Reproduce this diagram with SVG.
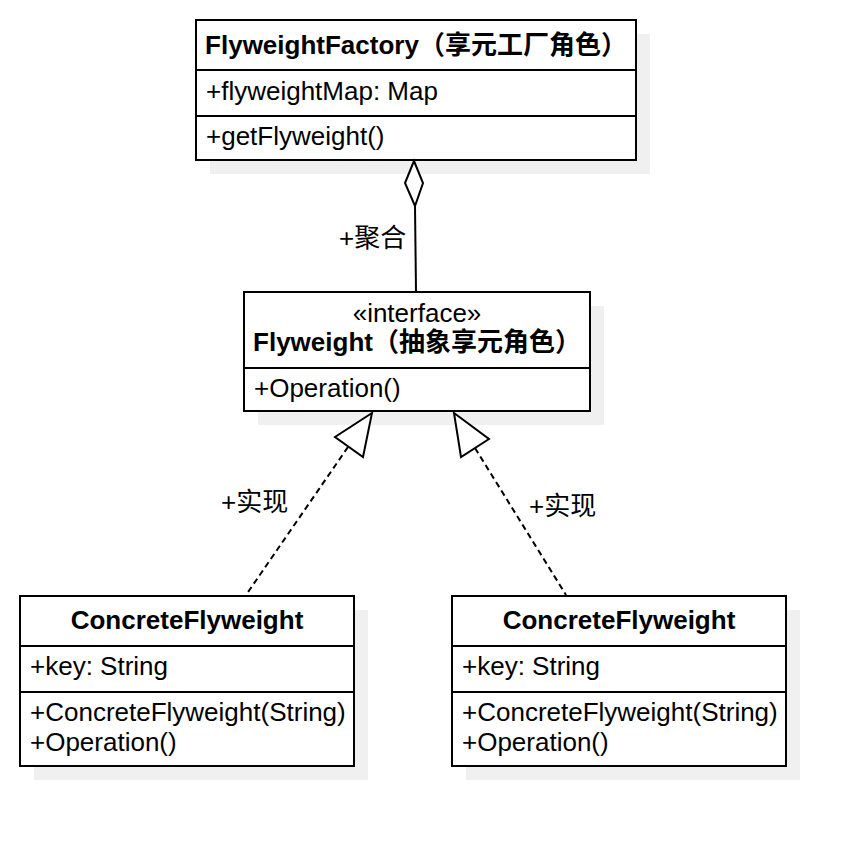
<svg xmlns="http://www.w3.org/2000/svg" width="864" height="846" viewBox="0 0 864 846">
<style>
text { font-family: "Liberation Sans", "Noto Sans CJK SC", sans-serif; font-size: 26px; fill: #000; }
.b { font-weight: bold; }
.c { text-anchor: middle; }
.box { fill: #fff; stroke: #000; stroke-width: 2; }
.sh { fill: #f0f0f0; }
.div { stroke: #000; stroke-width: 2; }
.edge { fill: none; stroke: #000; stroke-width: 2; }
.dash { stroke-dasharray: 6 4; }
.head { fill: #fff; stroke: #000; stroke-width: 2; stroke-linejoin: miter; }
</style>
<rect width="864" height="846" fill="#fff"/>
<g id="factory">
<rect class="sh" x="210" y="34" width="440" height="140"/>
<rect class="box" x="196" y="20" width="440" height="140"/>
<line class="div" x1="196" y1="70" x2="636" y2="70"/>
<line class="div" x1="196" y1="116" x2="636" y2="116"/>
<text class="b c" x="416" y="54">FlyweightFactory（享元工厂角色）</text>
<text x="206" y="100">+flyweightMap: Map</text>
<text x="206" y="145">+getFlyweight()</text>
</g>
<g id="flyweight">
<rect class="sh" x="258" y="306" width="346" height="119"/>
<rect class="box" x="244" y="292" width="346" height="119"/>
<line class="div" x1="244" y1="368" x2="590" y2="368"/>
<text class="c" x="417" y="322">«interface»</text>
<text class="b c" x="417" y="351">Flyweight（抽象享元角色）</text>
<text x="254" y="397">+Operation()</text>
</g>
<g id="concrete1">
<rect class="sh" x="34" y="610" width="334" height="170"/>
<rect class="box" x="20" y="596" width="334" height="170"/>
<line class="div" x1="20" y1="646" x2="354" y2="646"/>
<line class="div" x1="20" y1="692" x2="354" y2="692"/>
<text class="b c" x="187" y="629">ConcreteFlyweight</text>
<text x="30" y="675">+key: String</text>
<text x="30" y="721">+ConcreteFlyweight(String)</text>
<text x="30" y="751">+Operation()</text>
</g>
<g id="concrete2">
<rect class="sh" x="466" y="610" width="334" height="170"/>
<rect class="box" x="452" y="596" width="334" height="170"/>
<line class="div" x1="452" y1="646" x2="786" y2="646"/>
<line class="div" x1="452" y1="692" x2="786" y2="692"/>
<text class="b c" x="619" y="629">ConcreteFlyweight</text>
<text x="462" y="675">+key: String</text>
<text x="462" y="721">+ConcreteFlyweight(String)</text>
<text x="462" y="751">+Operation()</text>
</g>
<g id="connectors">
<line class="edge" x1="415" y1="206" x2="416" y2="291"/>
<polygon class="head" points="414,161 405,183 415,206 423,183"/>
<text x="339" y="247">+聚合</text>
<line class="edge dash" x1="348" y1="447" x2="246" y2="595"/>
<polygon class="head" points="372,413 335,437 363,457"/>
<text x="221" y="511">+实现</text>
<line class="edge dash" x1="475" y1="448" x2="566" y2="595"/>
<polygon class="head" points="454,413 489,439 461,457"/>
<text x="529" y="515">+实现</text>
</g>
</svg>
